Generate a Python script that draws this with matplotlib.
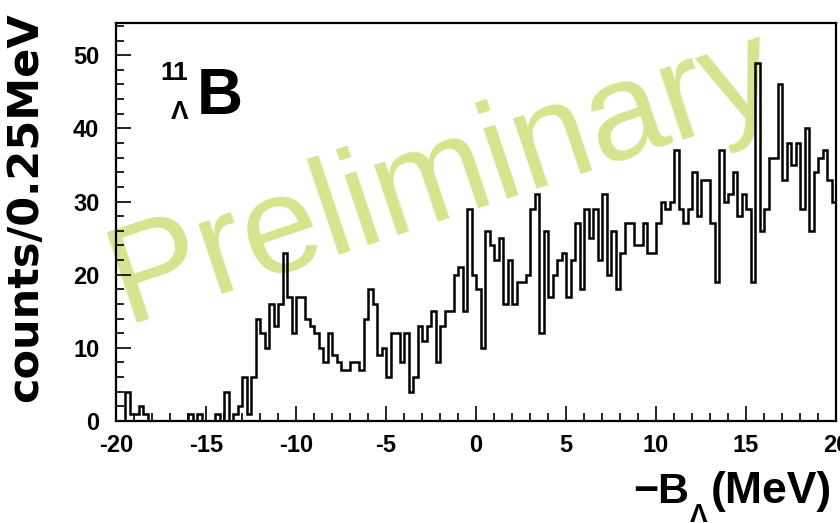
import matplotlib
matplotlib.use("Agg")
import matplotlib.pyplot as plt
import numpy as np
from matplotlib.ticker import MultipleLocator

# spectrum, 0.25 MeV bins from -20 to 20 MeV
x_min = -20.0
x_max = 20.0
bin_width = 0.25
counts = [
    0, 0, 4, 1, 1, 2, 1, 0, 0, 0,
    0, 0, 0, 0, 0, 0, 1, 0, 1, 0,
    0, 0, 1, 0, 4, 0, 1, 2, 6, 1,
    6, 14, 12, 10, 16, 13, 16, 23, 17, 12,
    17, 17, 14, 13, 12, 10, 8, 12, 9, 8,
    7, 7, 8, 8, 7, 14, 18, 16, 9, 10,
    6, 12, 12, 8, 12, 4, 6, 13, 11, 13,
    15, 8, 13, 15, 15, 20, 21, 15, 29, 20,
    18, 10, 26, 24, 22, 25, 16, 22, 16, 19,
    19, 20, 29, 31, 12, 26, 17, 20, 22, 23,
    17, 22, 27, 18, 29, 25, 29, 22, 31, 20,
    26, 18, 23, 27, 27, 24, 24, 27, 23, 23,
    27, 30, 29, 30, 37, 29, 27, 29, 34, 28,
    33, 33, 27, 19, 37, 30, 31, 34, 28, 31,
    29, 19, 49, 26, 29, 36, 36, 46, 33, 38,
    35, 38, 29, 40, 26, 34, 36, 37, 33, 30,
]
y_top = 54.4

plt.rcParams["font.family"] = ["Liberation Sans", "DejaVu Sans"]
plt.rcParams["font.weight"] = "bold"
plt.rcParams["axes.unicode_minus"] = False

fig = plt.figure(figsize=(8.4, 5.23), dpi=100)

# watermark behind the axes
fig.text(455 / 840, 1 - 212 / 523, "Preliminary", fontsize=100, fontweight="normal",
         color="#d6e48e", rotation=18.5, rotation_mode="anchor",
         ha="center", va="baseline", zorder=-1)

ax = fig.add_axes([116 / 840, 1 - 421 / 523, 720 / 840, 398 / 523])
ax.set_facecolor("none")

edges = x_min + bin_width * np.arange(len(counts) + 1)
ax.stairs(counts, edges, color="black", lw=1.8)

ax.set_xlim(x_min, x_max)
ax.set_ylim(0, y_top)
ax.xaxis.set_major_locator(MultipleLocator(5))
ax.xaxis.set_minor_locator(MultipleLocator(1))
ax.yaxis.set_major_locator(MultipleLocator(10))
ax.yaxis.set_minor_locator(MultipleLocator(2))
ax.tick_params(which="both", direction="in", top=False, right=False, width=1.2)
ax.tick_params(which="major", length=11, labelsize=17)
ax.tick_params(which="minor", length=6)
ax.tick_params(axis="x", pad=9)
ax.tick_params(axis="y", pad=12)
for s in ax.spines.values():
    s.set_linewidth(1.6)

# axis titles
fig.text(25 / 840, 1 - 207 / 523, "counts/0.25MeV", rotation=90,
         fontsize=31, family="DejaVu Sans", fontweight="bold",
         ha="center", va="center")
fig.text(633 / 840, 1 - 503 / 523, "\u2212", fontsize=31, ha="left", va="baseline")
fig.text(657 / 840, 1 - 503 / 523, "B", fontsize=31, ha="left", va="baseline")
fig.text(699 / 840, 1 - 522 / 523, "\u039b", fontsize=19, ha="center", va="baseline")
fig.text(711 / 840, 1 - 503 / 523, "(MeV)", fontsize=32, ha="left", va="baseline")

# nucleus label
fig.text(188 / 840, 1 - 80 / 523, "11", fontsize=19, ha="right", va="baseline")
fig.text(180 / 840, 1 - 119 / 523, "\u039b", fontsize=19, ha="center", va="baseline")
fig.text(197 / 840, 1 - 114 / 523, "B", fontsize=46, ha="left", va="baseline")

fig.savefig("out.png", dpi=100)
